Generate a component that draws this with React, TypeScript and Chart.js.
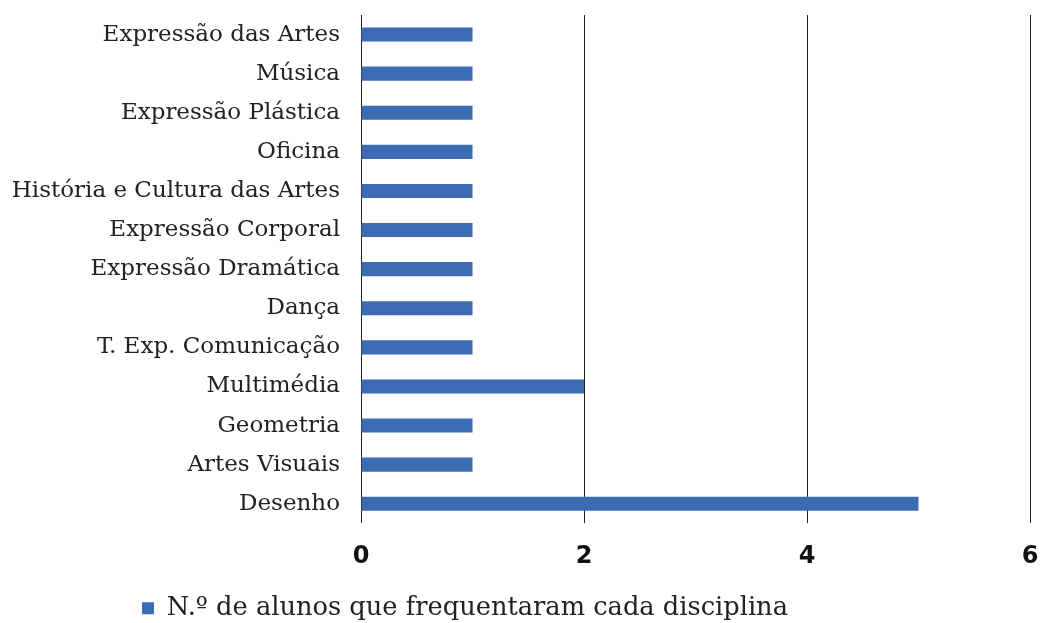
import React, { useEffect, useRef } from "react";
import { Chart, registerables } from "chart.js";

Chart.register(...registerables);

const categories = [
  "Expressão das Artes",
  "Música",
  "Expressão Plástica",
  "Oficina",
  "História e Cultura das Artes",
  "Expressão Corporal",
  "Expressão Dramática",
  "Dança",
  "T. Exp. Comunicação",
  "Multimédia",
  "Geometria",
  "Artes Visuais",
  "Desenho",
];
const values = [1, 1, 1, 1, 1, 1, 1, 1, 1, 2, 1, 1, 5];
const seriesLabel = "N.º de alunos que frequentaram cada disciplina";
const xTicks = [0, 2, 4, 6];

const legendShift = {
  id: "legendShift",
  afterUpdate(chart: any) {
    const lg = chart.legend;
    if (!lg) return;
    const dx = -50;
    const dy = 8;
    lg.left += dx;
    lg.right += dx;
    lg.top += dy;
    lg.bottom += dy;
    if (lg.legendHitBoxes)
      lg.legendHitBoxes.forEach((b: any) => {
        b.left += dx;
        b.top += dy;
      });
  },
};

export default function App() {
  const ref = useRef<HTMLCanvasElement | null>(null);
  useEffect(() => {
    if (!ref.current) return;
    const chart = new Chart(ref.current, {
      type: "bar",
      data: {
        labels: categories,
        datasets: [
          {
            label: seriesLabel,
            data: values,
            backgroundColor: "#3d6bb3",
            borderWidth: 0,
            categoryPercentage: 1,
            barPercentage: 0.36,
          },
        ],
      },
      options: {
        indexAxis: "y",
        animation: false,
        responsive: false,
        maintainAspectRatio: false,
        layout: { padding: { left: 0, right: 11, top: 15, bottom: 0 } },
        scales: {
          x: {
            min: 0,
            max: 6,
            afterBuildTicks: (axis: any) => {
              axis.ticks = xTicks.map((v) => ({ value: v }));
            },
            afterFit: (axis: any) => {
              axis.height = 62;
            },
            grid: { color: "#222", lineWidth: 1, drawTicks: true, tickLength: 19, tickColor: "rgba(0,0,0,0)" },
            border: { display: false },
            ticks: {
              padding: 0,
              color: "#111",
              font: { family: "DejaVu Sans", weight: "bold", size: 24 },
            },
          },
          y: {
            grid: { display: false, drawTicks: true, tickLength: 21, tickColor: "rgba(0,0,0,0)" },
            border: { display: false },
            afterFit: (axis: any) => {
              axis.width = 361;
            },
            ticks: {
              padding: 0,
              color: "#222",
              font: { family: "DejaVu Serif", size: 23 },
            },
          },
        },
        plugins: {
          legend: {
            position: "bottom",
            labels: {
              boxWidth: 12,
              boxHeight: 12,
              color: "#222",
              font: { family: "DejaVu Serif", size: 25.7 },
              padding: 2,
            },
          },
          tooltip: { enabled: false },
        },
      },
      plugins: [legendShift],
    });
    return () => chart.destroy();
  }, []);
  return (
    <div style={{ position: "absolute", left: 0, top: 0, width: 1041, height: 623, background: "#fff" }}>
      <canvas ref={ref} width={1041} height={623} style={{ width: 1041, height: 623 }} />
    </div>
  );
}
